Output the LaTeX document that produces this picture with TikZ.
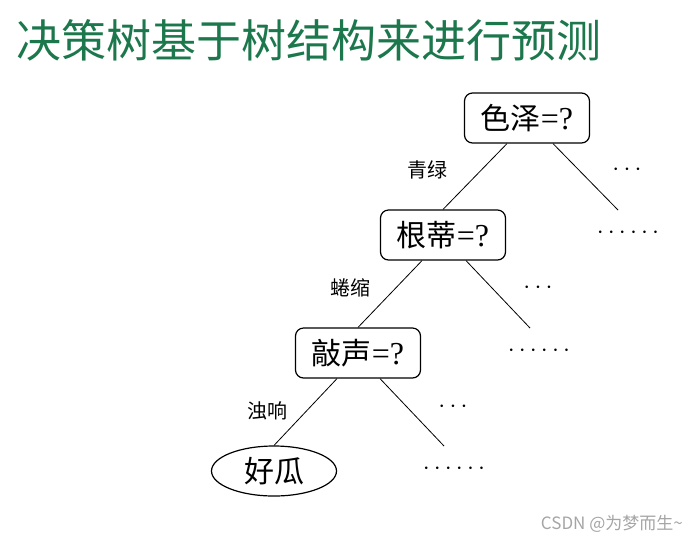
\documentclass[tikz,border=0pt]{standalone}
\usepackage{fontspec}
\setmainfont{Liberation Serif}
\newfontfamily\cjk{Noto Sans CJK SC}
\usetikzlibrary{calc,shapes.geometric}
\definecolor{titlegreen}{RGB}{28,120,76}
\definecolor{markgray}{RGB}{165,165,165}

\begin{document}
\begin{tikzpicture}[x=1pt,y=-1pt,
  testbox/.style={draw, line width=1.2pt, rounded corners=8pt, minimum width=125pt, minimum height=50pt, inner sep=0pt, font=\fontsize{32}{32}\selectfont},
  leafnode/.style={draw, line width=1.2pt, ellipse, minimum width=125pt, minimum height=50pt, inner sep=0pt, font=\cjk\fontsize{30}{30}\selectfont},
  edgelabel/.style={font=\cjk\fontsize{20}{20}\selectfont},
  moredots/.style={font=\fontsize{25}{25}\selectfont},
  branch/.style={line width=0.8pt}]
  \useasboundingbox (0,0) rectangle (698,542);

  % Title
  \node[anchor=west, inner sep=0pt, text=titlegreen, font=\cjk\fontsize{45}{45}\selectfont] (title) at (16,40) {决策树基于树结构来进行预测};

  % Tests
  \node[testbox] (sezhe) at (527,118) {{\cjk\fontsize{30}{30}\selectfont 色泽}=?};
  \node[testbox] (gendi) at (443,235) {{\cjk\fontsize{30}{30}\selectfont 根蒂}=?};
  \node[testbox] (qiaosheng) at (358,353) {{\cjk\fontsize{30}{30}\selectfont 敲声}=?};
  \node[leafnode] (haogua) at (274,471) {好瓜};

  % Free ends of the other branches
  \coordinate (sezhe-r) at (618,210);
  \coordinate (gendi-r) at (530,328);
  \coordinate (qiaosheng-r) at (444,446);

  % Branches
  \draw[branch] ($(sezhe.south)+(-20,0)$) -- (gendi.north);
  \draw[branch] ($(sezhe.south)+(26,0)$) -- (sezhe-r);
  \draw[branch] ($(gendi.south)+(-21,0)$) -- (qiaosheng.north);
  \draw[branch] ($(gendi.south)+(23,0)$) -- (gendi-r);
  \draw[branch] ($(qiaosheng.south)+(-21,0)$) -- (haogua.north);
  \draw[branch] ($(qiaosheng.south)+(22,0)$) -- (qiaosheng-r);

  % Branch values
  \node[edgelabel] (qinglv) at (427,170) {青绿};
  \node[edgelabel] (quansuo) at (350,288) {蜷缩};
  \node[edgelabel] (zhuoxiang) at (267,411) {浊响};

  % Omitted subtrees
  \node[moredots] (dots1) at (627,170) {$\cdots$};
  \node[moredots] (dots1b) at (628,233) {$\cdots\cdots$};
  \node[moredots] (dots2) at (538,288) {$\cdots$};
  \node[moredots] (dots2b) at (539,351) {$\cdots\cdots$};
  \node[moredots] (dots3) at (453,407) {$\cdots$};
  \node[moredots] (dots3b) at (454,469) {$\cdots\cdots$};

  % Watermark
  \node[anchor=east, inner sep=0pt, text=markgray, font=\cjk\fontsize{17}{17}\selectfont] (mark) at (683,524) {CSDN @为梦而生\textasciitilde};
\end{tikzpicture}
\end{document}
